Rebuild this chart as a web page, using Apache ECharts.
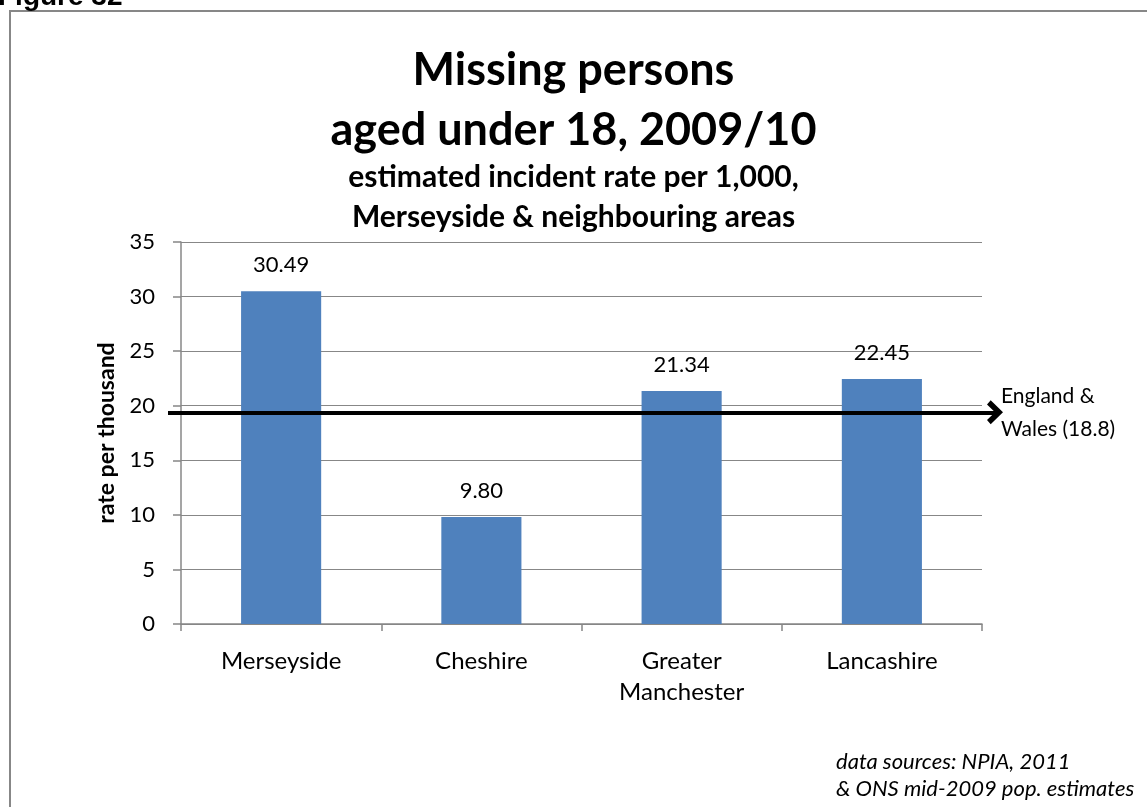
<!DOCTYPE html>
<html><head><meta charset="utf-8">
<script src="https://cdn.jsdelivr.net/npm/echarts@6/dist/echarts.min.js"></script>
<style>html,body{margin:0;padding:0;background:#fff}#c{width:1147px;height:807px}</style>
</head><body><div id="c"></div>
<script>
const categories = ['Merseyside', 'Cheshire', 'Greater\nManchester', 'Lancashire'];
const rates = [30.49, 9.80, 21.34, 22.45];
const yTicks = [0, 5, 10, 15, 20, 25, 30, 35];
const ewLineLevel = 19.4;           // level at which the reference arrow is drawn
const ewLabel = 'England &\nWales (18.8)';
const titleLines = 'Missing persons\naged under 18, 2009/10';
const subtitleLines = 'estimated incident rate per 1,000,\nMerseyside & neighbouring areas';
const yAxisName = 'rate per thousand';
const sourceNote = 'data sources: NPIA, 2011\n& ONS mid-2009 pop. estimates';
const figureLabel = 'Figure 32';

const FONT = 'Lato, "Open Sans", sans-serif';
const chart = echarts.init(document.getElementById('c'));
chart.setOption({
  animation: false,
  backgroundColor: '#fff',
  textStyle: { fontFamily: FONT },
  title: [
    { text: titleLines, left: 'center', top: 35,
      textStyle: { fontFamily: FONT, fontSize: 45, fontWeight: 'bold', color: '#000', lineHeight: 60 } },
    { text: subtitleLines, left: 'center', top: 152,
      textStyle: { fontFamily: FONT, fontSize: 30, fontWeight: 'bold', color: '#000', lineHeight: 40 } }
  ],
  graphic: [
    { type: 'rect', shape: { x: 10, y: 11, width: 1200, height: 900 },
      style: { fill: 'none', stroke: '#878787', lineWidth: 2 }, silent: true },
    { type: 'text', x: -2, y: 11,
      style: { text: figureLabel, font: 'bold 28px "Liberation Sans", Arial, sans-serif', fill: '#000',
        verticalAlign: 'bottom' } },
    { type: 'text', left: 836, top: 748,
      style: { text: sourceNote, font: 'italic 22px ' + FONT, fill: '#000', lineHeight: 27 } }
  ],
  grid: [
    { left: 181, right: 165, top: 242, bottom: 183 },
    { left: 168, right: 152, top: 242, bottom: 183 }
  ],
  xAxis: [
    { type: 'category', data: categories, gridIndex: 0,
      axisLine: { lineStyle: { color: '#878787', width: 1.5 } },
      axisTick: { show: true, length: 7, lineStyle: { color: '#878787', width: 1.5 } },
      axisLabel: { color: '#000', fontSize: 24, margin: 22, lineHeight: 31, fontFamily: FONT } },
    { type: 'value', gridIndex: 1, min: 0, max: 1, show: false }
  ],
  yAxis: [
    { type: 'value', gridIndex: 0, min: 0, max: 35, interval: 5,
      name: yAxisName, nameLocation: 'middle', nameGap: 63, nameRotate: 90,
      nameTextStyle: { color: '#000', fontSize: 23, fontWeight: 'bold', fontFamily: FONT },
      axisLine: { show: true, lineStyle: { color: '#878787', width: 1.5 } },
      axisTick: { show: true, length: 8, lineStyle: { color: '#878787', width: 1.5 } },
      axisLabel: { color: '#000', fontSize: 22, margin: 26, fontFamily: FONT,
        formatter: v => yTicks.includes(v) ? String(v) : '' },
      splitLine: { show: true, lineStyle: { color: '#878787', width: 1.2 } } },
    { type: 'value', gridIndex: 1, min: 0, max: 35, show: false }
  ],
  series: [
    { type: 'bar', xAxisIndex: 0, yAxisIndex: 0, data: rates, barWidth: '40%',
      itemStyle: { color: '#4F81BD' },
      label: { show: true, position: 'top', distance: 15, color: '#000', fontSize: 22,
        fontFamily: FONT, formatter: p => p.value.toFixed(2) } },
    { type: 'line', xAxisIndex: 1, yAxisIndex: 1, data: [[0, ewLineLevel]], symbol: 'none',
      lineStyle: { opacity: 0 }, silent: true, z: 5,
      markLine: { silent: true, animation: false,
        symbol: ['none', 'path://M0,10 L10,0 L20,10 L16.5,13 L10,6.5 L3.5,13 Z'],
        symbolSize: [24, 16],
        lineStyle: { color: '#000', width: 4, type: 'solid' },
        label: { show: true, position: 'end', distance: 6, color: '#000', fontSize: 21,
          fontFamily: FONT, lineHeight: 33, align: 'left', padding: [18, 0, 0, 0],
          formatter: ewLabel },
        data: [{ yAxis: ewLineLevel }] } }
  ]
});
</script></body></html>
